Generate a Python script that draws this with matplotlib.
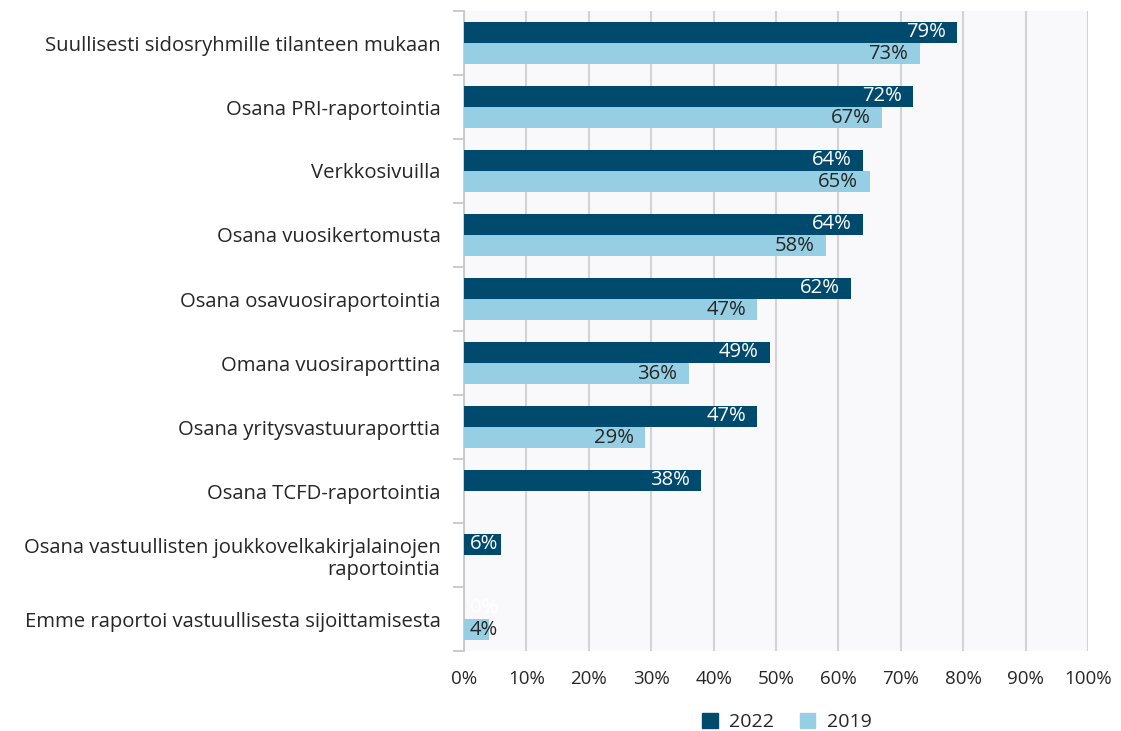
import numpy as np
import matplotlib
matplotlib.use("Agg")
import matplotlib.pyplot as plt
from matplotlib.patches import Patch

plt.rcParams['font.family'] = ['Open Sans', 'DejaVu Sans']

# survey categories, top to bottom
categories = [
    "Suullisesti sidosryhmille tilanteen mukaan",
    "Osana PRI-raportointia",
    "Verkkosivuilla",
    "Osana vuosikertomusta",
    "Osana osavuosiraportointia",
    "Omana vuosiraporttina",
    "Osana yritysvastuuraporttia",
    "Osana TCFD-raportointia",
    "Osana vastuullisten joukkovelkakirjalainojen\nraportointia",
    "Emme raportoi vastuullisesta sijoittamisesta",
]
vals_2022 = [79, 72, 64, 64, 62, 49, 47, 38, 6, 0]
vals_2019 = [73, 67, 65, 58, 47, 36, 29, None, None, 4]

c2022 = "#004a6e"
c2019 = "#96cfe4"
txt = "#262626"
fs = 14.6

fig = plt.figure(figsize=(11.21, 7.31), dpi=100)
ax = fig.add_axes([464/1121, 1 - 651/731, 624/1121, 640/731])
ax.set_facecolor("#f9f9fb")

n = len(categories)
y = np.arange(n)
h = 0.33


def label(ax, yy, v, color):
    s = f"{v}%"
    if v < 8:
        ax.text(0.9, yy, s, ha="left", va="center", color=color, fontsize=fs,
                fontstretch="normal", zorder=4)
    else:
        ax.text(v - 1.8, yy, s, ha="right", va="center", color=color, fontsize=fs,
                fontstretch="normal", zorder=4)


for i in range(n):
    v = vals_2022[i]
    ax.barh(y[i] - h / 2, v, height=h, color=c2022, zorder=3)
    label(ax, y[i] - h / 2, v, "white")
    v = vals_2019[i]
    if v is not None:
        ax.barh(y[i] + h / 2, v, height=h, color=c2019, zorder=3)
        label(ax, y[i] + h / 2, v, txt)

ax.set_xlim(0, 100)
ax.set_ylim(n - 0.5, -0.5)
ax.set_xticks(np.arange(0, 101, 10))
ax.set_xticklabels([f"{t}%" for t in range(0, 101, 10)], color=txt, fontsize=13.5)
ax.tick_params(axis="x", length=0, pad=14)
ax.xaxis.grid(True, color="#d3d3d6", linewidth=1.5, zorder=0)

ax.set_yticks(y)
ax.set_yticklabels(categories, color=txt, fontsize=fs, ha="right",
                   multialignment="right")
ax.set_yticks(np.arange(-0.5, n, 1), minor=True)
ax.tick_params(axis="y", which="major", length=0, pad=17)
ax.tick_params(axis="y", which="minor", length=8, color="#c8c8c8", width=1.3)

for s in ["top", "right", "bottom"]:
    ax.spines[s].set_visible(False)
ax.spines["left"].set_color("#c8c8c8")
ax.spines["left"].set_linewidth(1.3)

handles = [Patch(color=c2022, label="2022"), Patch(color=c2019, label="2019")]
fig.legend(handles=handles, loc="center", bbox_to_anchor=(787/1121, 1 - 722/731),
           ncol=2, frameon=False, fontsize=14, handlelength=0.8, handleheight=0.8,
           handletextpad=0.6, columnspacing=1.3, labelcolor=txt)

fig.savefig("out.png", dpi=100)
